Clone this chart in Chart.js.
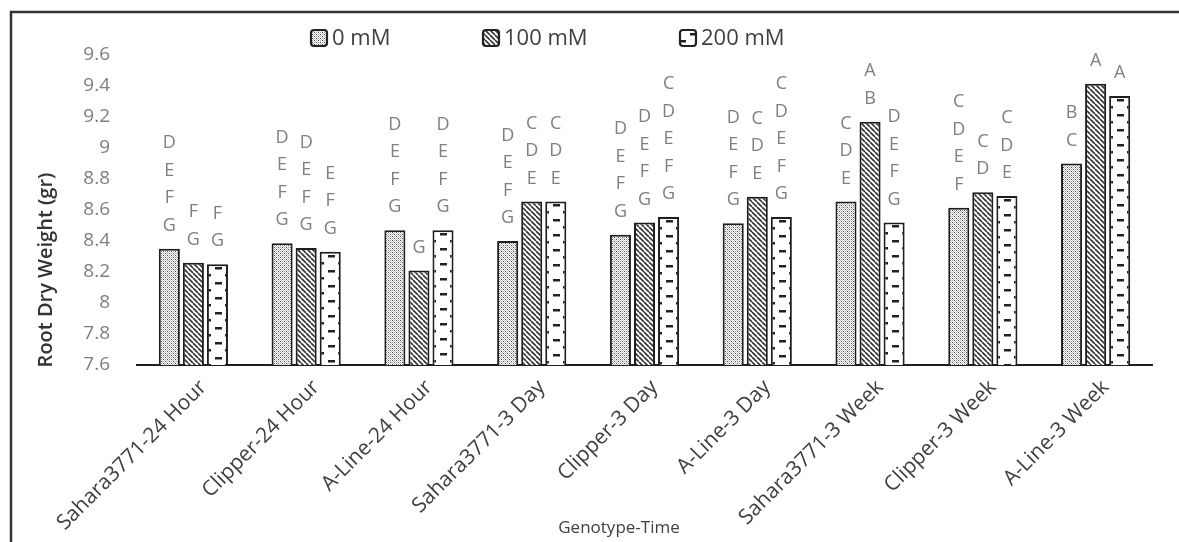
<!DOCTYPE html>
<html>
<head>
<meta charset="utf-8">
<script src="https://cdn.jsdelivr.net/npm/chart.js@4.4.1/dist/chart.umd.min.js"></script>
<style>
  html, body { margin: 0; padding: 0; background: #ffffff; }
  #wrap { position: relative; width: 1179px; height: 542px; }
</style>
</head>
<body>
<div id="wrap"><canvas id="c"></canvas></div>
<script>
// ---- data ----
const categories = ["Sahara3771-24 Hour", "Clipper-24 Hour", "A-Line-24 Hour", "Sahara3771-3 Day", "Clipper-3 Day", "A-Line-3 Day", "Sahara3771-3 Week", "Clipper-3 Week", "A-Line-3 Week"];
const seriesNames = ["0 mM", "100 mM", "200 mM"];
const values0mM   = [8.35, 8.385, 8.47, 8.40, 8.44, 8.515, 8.655, 8.615, 8.90];
const values100mM = [8.26, 8.355, 8.21, 8.655, 8.52, 8.685, 9.17, 8.715, 9.415];
const values200mM = [8.25, 8.33, 8.47, 8.655, 8.555, 8.555, 8.52, 8.69, 9.335];
const letters0mM   = ["DEFG", "DEFG", "DEFG", "DEFG", "DEFG", "DEFG", "CDE", "CDEF", "BC"];
const letters100mM = ["FG", "DEFG", "G", "CDE", "DEFG", "CDE", "AB", "CD", "A"];
const letters200mM = ["FG", "EFG", "DEFG", "CDE", "CDEFG", "CDEFG", "DEFG", "CDE", "A"];
const yTickValues = [7.6, 7.8, 8, 8.2, 8.4, 8.6, 8.8, 9, 9.2, 9.4, 9.6];
const xTitle = "Genotype-Time";
const yTitle = "Root Dry Weight (gr)";

const FONT = "'Open Sans', Lato, sans-serif";

// ---- patterns ----
function tile(w, h, draw) {
  const c = document.createElement('canvas');
  c.width = w; c.height = h;
  const g = c.getContext('2d');
  g.fillStyle = '#ffffff'; g.fillRect(0, 0, w, h);
  draw(g, w, h);
  return c;
}
const tileDots = tile(4, 4, (g) => {
  g.fillStyle = '#a8a8a8';
  g.fillRect(0, 0, 1, 1); g.fillRect(2, 2, 1, 1);
  g.fillStyle = '#4a4a4a';
  g.fillRect(2, 0, 1, 1); g.fillRect(0, 2, 1, 1);
  g.fillStyle = '#d0d0d0';
  g.fillRect(1, 1, 1, 1); g.fillRect(3, 3, 1, 1);
  g.fillStyle = '#c4c4c4';
  g.fillRect(3, 1, 1, 1); g.fillRect(1, 3, 1, 1);
});
const tileDiag = tile(5, 5, (g, w, h) => {
  g.strokeStyle = '#333333'; g.lineWidth = 1.6;
  for (let k = -1; k <= 1; k++) {
    g.beginPath(); g.moveTo(k * w, 0); g.lineTo(k * w + w, h); g.stroke();
  }
});
const tileDash = tile(22, 15, (g) => {
  g.fillStyle = '#222222';
  g.fillRect(8, 3, 7, 2.5);
  g.fillRect(0, 10, 4, 2.5);
  g.fillRect(18, 10, 4, 2.5);
});
const tiles = [tileDots, tileDiag, tileDash];

function patternFor(dsIndex, ctx2d) {
  return ctx2d.createPattern(tiles[dsIndex], 'repeat');
}

function scriptedFill(dsIndex) {
  return function (context) {
    const chart = context.chart;
    const p = patternFor(dsIndex, chart.ctx);
    const el = context.element;
    if (el && typeof el.x === 'number' && typeof el.width === 'number' && p.setTransform) {
      p.setTransform(new DOMMatrix().translate(Math.round(el.x - el.width / 2), Math.round(el.y || 0)));
    }
    return p;
  };
}

// ---- plugins ----
const framePlugin = {
  id: 'frame',
  beforeDraw(chart) {
    const g = chart.ctx;
    g.save();
    g.fillStyle = '#ffffff';
    g.fillRect(0, 0, chart.width, chart.height);
    g.strokeStyle = '#333333';
    g.lineWidth = 2.5;
    g.beginPath();
    g.moveTo(11, chart.height + 5);
    g.lineTo(11, 12);
    g.lineTo(chart.width + 5, 12);
    g.stroke();
    g.restore();
  }
};

const legendX = [311, 483, 680];
const legendPlugin = {
  id: 'customLegend',
  afterDraw(chart) {
    const g = chart.ctx;
    g.save();
    g.font = "22px " + FONT;
    g.textBaseline = 'middle';
    const yc = 38;
    chart.data.datasets.forEach((ds, i) => {
      const x = legendX[i];
      const box = 16;
      g.fillStyle = patternFor(i, g);
      g.beginPath();
      g.roundRect(x, yc - box / 2, box, box, 3);
      g.fill();
      g.lineWidth = 2.2;
      g.strokeStyle = '#222222';
      g.stroke();
      g.fillStyle = '#404040';
      g.fillText(ds.label, x + box + 5, yc + 1);
    });
    g.restore();
  }
};

const lettersPlugin = {
  id: 'letters',
  afterDatasetsDraw(chart) {
    const g = chart.ctx;
    const sets = [letters0mM, letters100mM, letters200mM];
    g.save();
    g.font = "18px " + FONT;
    g.fillStyle = '#7f7f7f';
    g.textAlign = 'center';
    g.textBaseline = 'middle';
    chart.data.datasets.forEach((ds, di) => {
      const meta = chart.getDatasetMeta(di);
      meta.data.forEach((bar, i) => {
        const str = sets[di][i];
        const n = str.length;
        for (let k = 0; k < n; k++) {
          const ch = str[n - 1 - k];
          g.fillText(ch, bar.x, bar.y - 23 - k * 27.5);
        }
      });
    });
    g.restore();
  }
};

const titlesPlugin = {
  id: 'axisTitles',
  afterDraw(chart) {
    const g = chart.ctx;
    g.save();
    g.font = "17px " + FONT;
    g.fillStyle = '#404040';
    g.textAlign = 'center';
    g.textBaseline = 'middle';
    g.fillText(xTitle, 619, 528);
    g.font = "600 20px " + FONT;
    g.fillStyle = '#333333';
    g.translate(46, 270);
    g.rotate(-Math.PI / 2);
    g.fillText(yTitle, 0, 0);
    g.restore();
  }
};

const fills = [0, 1, 2].map(scriptedFill);
const dataArrays = [values0mM, values100mM, values200mM];

const chart = new Chart(document.getElementById('c'), {
  type: 'bar',
  data: {
    labels: categories,
    datasets: seriesNames.map((name, i) => ({
      label: name,
      data: dataArrays[i],
      backgroundColor: fills[i],
      borderColor: '#1e1e1e',
      borderWidth: 2,
      borderSkipped: false,
      categoryPercentage: 0.64,
      barPercentage: 0.875
    }))
  },
  options: {
    responsive: true,
    maintainAspectRatio: false,
    animation: false,
    devicePixelRatio: 1,
    layout: { padding: { left: 0, right: 27, top: 55, bottom: 0 } },
    plugins: {
      legend: { display: false },
      tooltip: { enabled: false },
      title: { display: false }
    },
    scales: {
      x: {
        grid: { display: false },
        border: { display: true, color: '#1e1e1e', width: 2 },
        ticks: {
          color: '#404040',
          font: { family: FONT, size: 21 },
          minRotation: 45,
          maxRotation: 45,
          autoSkip: false,
          padding: 2,
          labelOffset: 10
        },
        afterFit(scale) { scale.height = 542 - 365; }
      },
      y: {
        min: 7.6,
        max: 9.6,
        grid: { display: false },
        border: { display: false },
        afterBuildTicks(scale) { scale.ticks = yTickValues.map(v => ({ value: v })); },
        ticks: {
          color: '#7f7f7f',
          font: { family: FONT, size: 19 },
          padding: 19,
          callback: (v) => String(Number(Number(v).toFixed(1)))
        },
        afterFit(scale) { scale.width = 137; }
      }
    }
  },
  plugins: [framePlugin, legendPlugin, lettersPlugin, titlesPlugin]
});
chart.update('none');
</script>
</body>
</html>
